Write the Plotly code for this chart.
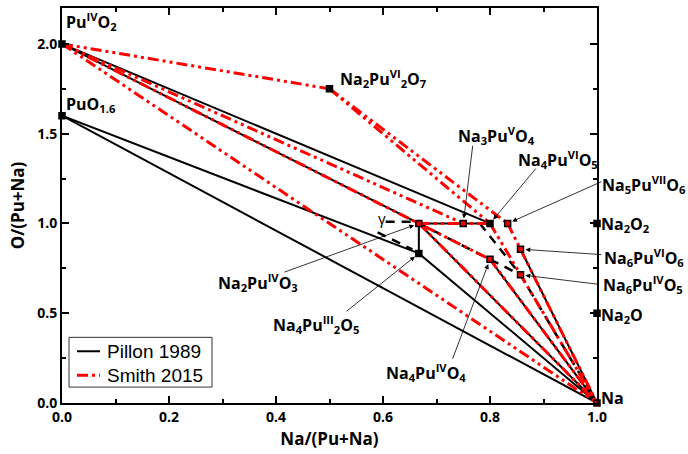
import plotly.graph_objects as go

# ---------------- data ----------------
names  = ["PuO2", "PuO1.6", "Na2Pu2O7", "Na2PuO3", "Na4Pu2O5", "Na3PuO4", "Na4PuO5",
          "Na5PuO6", "Na6PuO6", "Na6PuO5", "Na4PuO4", "Na2O2", "Na2O", "Na"]
comp_x = [0.0, 0.0, 0.5, 0.667, 0.667, 0.75, 0.8, 0.833, 0.857, 0.857, 0.8, 1.0, 1.0, 1.0]
comp_y = [2.0, 1.6, 1.75, 1.0, 0.833, 1.0, 1.0, 1.0, 0.857, 0.714, 0.8, 1.0, 0.5, 0.0]

pillon_ties = [("PuO2", "Na4PuO5"), ("PuO2", "Na2PuO3"), ("PuO1.6", "Na4Pu2O5"),
               ("PuO1.6", "Na"), ("Na2PuO3", "Na4PuO5"), ("Na2PuO3", "Na4Pu2O5"),
               ("Na4Pu2O5", "Na"), ("Na2PuO3", "Na"), ("Na4PuO4", "Na"), ("Na6PuO6", "Na")]
pillon_dashed = [("Na2PuO3", "Na6PuO5"), ("Na6PuO5", "Na")]
gamma_x = [[0.605, 0.662], [0.59, 0.655], [0.781, 0.857]]
gamma_y = [[1.01, 1.01], [0.95, 0.855], [1.0, 0.714]]
smith_ties = [("PuO2", "Na2Pu2O7"), ("Na2Pu2O7", "Na4PuO5"), ("Na2Pu2O7", "Na5PuO6"),
              ("PuO2", "Na3PuO4"), ("PuO2", "Na4PuO4"), ("PuO2", "Na"),
              ("Na2PuO3", "Na4PuO5"), ("Na2PuO3", "Na"), ("Na4PuO4", "Na"),
              ("Na4PuO5", "Na"), ("Na5PuO6", "Na")]

smith_phases = ["Na2PuO3", "Na3PuO4", "Na5PuO6", "Na6PuO6", "Na4PuO4", "Na6PuO5", "Na"]

series_names = ["Pillon 1989", "Smith 2015"]

labels = {
    "PuO2": "Pu<sup>IV</sup>O<sub>2</sub>",
    "PuO1.6": "PuO<sub>1.6</sub>",
    "Na2Pu2O7": "Na<sub>2</sub>Pu<sup>VI</sup><sub>2</sub>O<sub>7</sub>",
    "Na3PuO4": "Na<sub>3</sub>Pu<sup>V</sup>O<sub>4</sub>",
    "Na4PuO5": "Na<sub>4</sub>Pu<sup>VI</sup>O<sub>5</sub>",
    "Na5PuO6": "Na<sub>5</sub>Pu<sup>VII</sup>O<sub>6</sub>",
    "Na2O2": "Na<sub>2</sub>O<sub>2</sub>",
    "Na6PuO6": "Na<sub>6</sub>Pu<sup>VI</sup>O<sub>6</sub>",
    "Na6PuO5": "Na<sub>6</sub>Pu<sup>IV</sup>O<sub>5</sub>",
    "Na2O": "Na<sub>2</sub>O",
    "Na": "Na",
    "Na2PuO3": "Na<sub>2</sub>Pu<sup>IV</sup>O<sub>3</sub>",
    "Na4Pu2O5": "Na<sub>4</sub>Pu<sup>III</sup><sub>2</sub>O<sub>5</sub>",
    "Na4PuO4": "Na<sub>4</sub>Pu<sup>IV</sup>O<sub>4</sub>",
}

# ---------------- layout helpers (positions, data units) ----------------
Y_TOP = 2.2
label_pos = {  # (x, y, xanchor)
    "PuO2": (0.003, 2.125, "left"),
    "PuO1.6": (0.003, 1.66, "left"),
    "Na2Pu2O7": (0.515, 1.81, "left"),
    "Na3PuO4": (0.813, 1.49, "center"),
    "Na4PuO5": (0.927, 1.355, "center"),
    "Na5PuO6": (1.088, 1.215, "center"),
    "Na2O2": (1.004, 0.995, "left"),
    "Na6PuO6": (1.088, 0.81, "center"),
    "Na6PuO5": (1.086, 0.66, "center"),
    "Na2O": (1.004, 0.49, "left"),
    "Na": (1.004, 0.03, "left"),
    "Na2PuO3": (0.366, 0.672, "center"),
    "Na4Pu2O5": (0.475, 0.44, "center"),
    "Na4PuO4": (0.680, 0.168, "center"),
}
arrow_tail = {
    "Na3PuO4": (0.768, 1.441), "Na4PuO5": (0.888, 1.314), "Na5PuO6": (1.011, 1.236),
    "Na6PuO6": (1.011, 0.826), "Na6PuO5": (1.006, 0.660), "Na2PuO3": (0.413, 0.726),
    "Na4Pu2O5": (0.529, 0.504), "Na4PuO4": (0.729, 0.238),
}

BLACK_LINE = dict(color="black", width=2)
RED_LINE = dict(color="#ff0000", width=3, dash="11px,4px,3px,4px,3px,4px")

idx = {n: i for i, n in enumerate(names)}


def seg_xy(ties):
    xs, ys = [], []
    for a, b in ties:
        xs += [comp_x[idx[a]], comp_x[idx[b]], None]
        ys += [comp_y[idx[a]], comp_y[idx[b]], None]
    return xs, ys


fig = go.Figure()

px_, py_ = seg_xy(pillon_ties)
fig.add_trace(go.Scatter(x=px_, y=py_, mode="lines", name=series_names[0],
                         showlegend=False, line=BLACK_LINE))

dx, dy = seg_xy(pillon_dashed)
for gx, gy in zip(gamma_x, gamma_y):
    dx += gx + [None]
    dy += gy + [None]
fig.add_trace(go.Scatter(x=dx, y=dy, mode="lines", showlegend=False,
                         line=dict(color="black", width=2.5, dash="9px,7px")))

sx, sy = seg_xy(smith_ties)
fig.add_trace(go.Scatter(x=sx, y=sy, mode="lines", name=series_names[1],
                         showlegend=False, line=RED_LINE))

fills = ["#ee0000" if n in smith_phases else "black" for n in names]
fig.add_trace(go.Scatter(x=comp_x, y=comp_y, mode="markers", showlegend=False,
                         cliponaxis=False,
                         marker=dict(symbol="square", size=6, color=fills,
                                     line=dict(color="black", width=1.5))))

lab_font = dict(family="Open Sans", size=16, color="black", weight="bold")
for n, (lx, ly, xa) in label_pos.items():
    fig.add_annotation(x=lx, y=ly / Y_TOP, xref="paper", yref="paper", text=labels[n],
                       showarrow=False, xanchor=xa, yanchor="middle", font=lab_font)
for n, (tx, ty) in arrow_tail.items():
    fig.add_annotation(x=comp_x[idx[n]], y=comp_y[idx[n]], xref="x", yref="y",
                       ax=tx, ay=ty, axref="x", ayref="y", text="", showarrow=True,
                       arrowhead=2, arrowsize=1.2, arrowwidth=0.8, arrowcolor="black",
                       standoff=5)
fig.add_annotation(x=0.598, y=1.03 / Y_TOP, xref="paper", yref="paper", text="γ",
                   showarrow=False, font=dict(family="Open Sans", size=15, color="black"))

# ---------------- hand-drawn legend box (paper coords) ----------------
PLOT_L, PLOT_B, PLOT_W, PLOT_H = 62, 403, 535, 397


def pxp(px, py):
    return (px - PLOT_L) / PLOT_W, (PLOT_B - py) / PLOT_H


bx0, by0 = pxp(69, 387)
bx1, by1 = pxp(212, 337)
fig.add_shape(type="rect", xref="paper", yref="paper", x0=bx0, y0=by0, x1=bx1, y1=by1,
              line=dict(color="#333333", width=1), fillcolor="white", layer="above")
for i, (nm, ln) in enumerate(zip(series_names, [BLACK_LINE, RED_LINE])):
    yc = 351 + i * 24
    lx0, ly = pxp(77, yc)
    lx1, _ = pxp(100, yc)
    fig.add_shape(type="line", xref="paper", yref="paper", x0=lx0, y0=ly, x1=lx1, y1=ly,
                  line=ln, layer="above")
    tx, _ = pxp(105, yc)
    fig.add_annotation(x=tx, y=ly, xref="paper", yref="paper", text=nm, showarrow=False,
                       xanchor="left", yanchor="middle",
                       font=dict(family="Liberation Sans", size=19, color="black"))

axis_common = dict(showline=True, linewidth=2, linecolor="black", mirror="allticks",
                   ticks="inside", ticklen=7, tickwidth=1.5, tickcolor="black",
                   showgrid=False, zeroline=False, tickformat=".1f",
                   tickfont=dict(family="Open Sans", size=14, color="black", weight="bold"))

fig.update_layout(
    width=688, height=454,
    margin=dict(l=62, r=91, t=6, b=51),
    plot_bgcolor="white", paper_bgcolor="white",
    xaxis=dict(range=[0, 1], dtick=0.2, tick0=0,
               minor=dict(dtick=0.1, ticks="inside", ticklen=4, tickwidth=1.5, tickcolor="black"),
               title=dict(text="Na/(Pu+Na)", standoff=8,
                          font=dict(family="Open Sans", size=17, color="black", weight="bold")),
               **axis_common),
    yaxis=dict(range=[0, Y_TOP], dtick=0.5, tick0=0,
               minor=dict(dtick=0.25, ticks="inside", ticklen=4, tickwidth=1.5, tickcolor="black"),
               title=dict(text="O/(Pu+Na)", standoff=8,
                          font=dict(family="Open Sans", size=17, color="black", weight="bold")),
               **axis_common),
    showlegend=False,
)

fig.write_html("out.html")
